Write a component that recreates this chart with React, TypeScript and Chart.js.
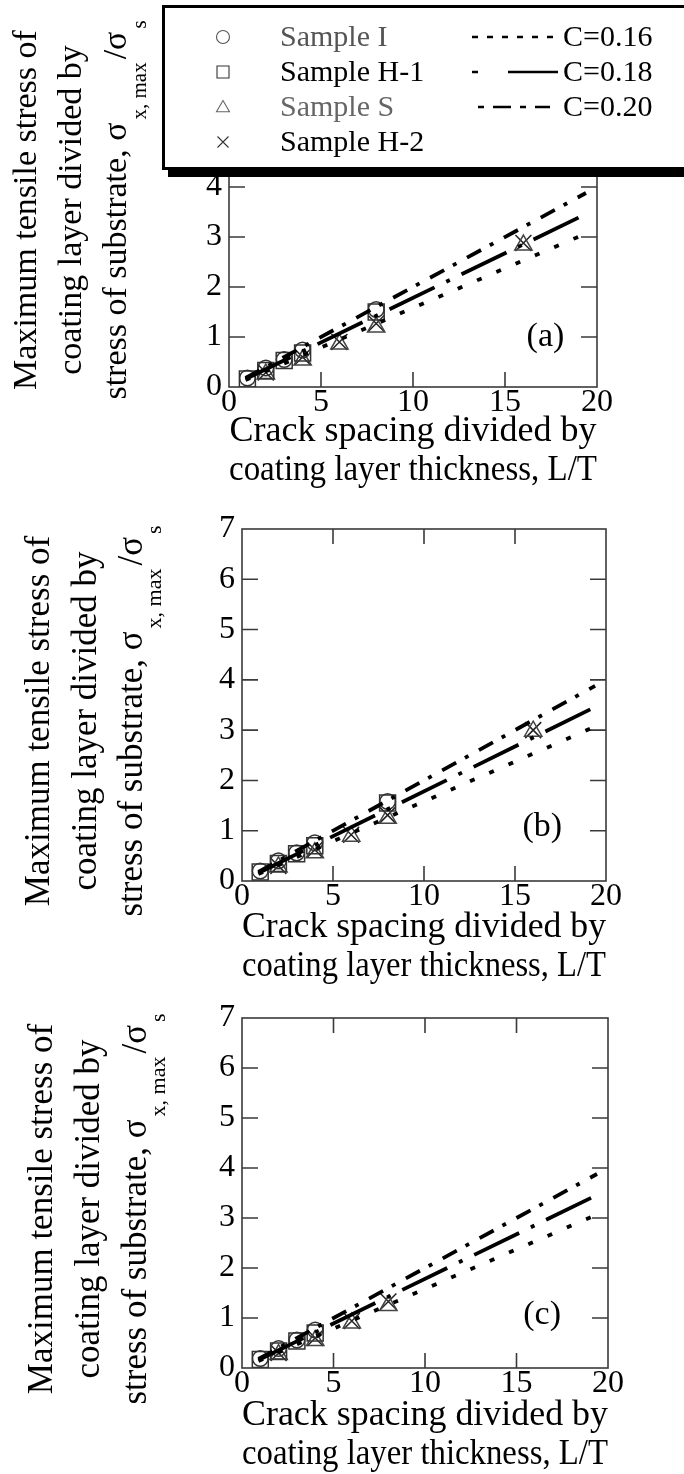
import React, { useEffect, useRef } from 'react';
import { Chart, registerables } from 'chart.js';

Chart.register(...registerables);

const SERIF = "'Liberation Serif', 'Times New Roman', Times, serif";

// ---- data (L/T positions of samples) ----
const xSampleIH = [1, 2, 3, 4, 8];
const xSampleSH = [2, 4, 6, 8, 16];
const xSampleIHc = [1, 2, 3, 4];
const xSampleSHc = [2, 4, 6, 8];

// panel (a)
const aSampleI = [0.18, 0.38, 0.55, 0.74, 1.55];
const aSampleH1 = [0.16, 0.33, 0.53, 0.68, 1.5];
const aSampleS = [0.26, 0.54, 0.86, 1.2, 2.84];
const aSampleH2 = [0.29, 0.6, 0.9, 1.27, 2.88];

// panel (b)
const bSampleI = [0.2, 0.4, 0.56, 0.76, 1.58];
const bSampleH1 = [0.18, 0.35, 0.54, 0.7, 1.55];
const bSampleS = [0.28, 0.56, 0.89, 1.25, 2.98];
const bSampleH2 = [0.3, 0.62, 0.92, 1.31, 3.0];

// panel (c)
const cSampleI = [0.19, 0.39, 0.56, 0.76];
const cSampleH1 = [0.17, 0.34, 0.54, 0.7];
const cSampleS = [0.27, 0.55, 0.9, 1.25];
const cSampleH2 = [0.3, 0.6, 0.94, 1.33];

// model lines (end points)
const lineX = [0.9, 19.4];
const lineC016 = [0.14, 3.07];
const lineC018 = [0.16, 3.46];
const lineC020 = [0.18, 3.88];

// texts
const sampleNames = ['Sample I', 'Sample H-1', 'Sample S', 'Sample H-2'];
const lineNames = ['C=0.16', 'C=0.18', 'C=0.20'];
const xTitleLines = ['Crack spacing divided by', 'coating layer thickness, L/T'];
const yTitleLine1 = 'Maximum tensile stress of';
const yTitleLine2 = 'coating layer divided by';
const yTitleLine3 = ['stress of substrate, \u03c3', 'x, max', '/\u03c3', 's'];
const panelLabels = ['(a)', '(b)', '(c)'];

// ---- layout of each panel (pixels) ----
const layouts = [
  { top: 0, height: 490, left: 229, right: 597, plotTop: 37, plotBottom: 387, labelAt: [17.2, 1.0], titleDy: -2, titleX: [27, 72, 117], subDx: 23, yTitleSize: 34, legend: true },
  { top: 490, height: 496, left: 242, right: 606, plotTop: 39, plotBottom: 391, labelAt: [16.5, 1.07], titleDy: 16, titleX: [40, 87, 133], subDx: 22, yTitleSize: 35, legend: false },
  { top: 986, height: 488, left: 242, right: 608, plotTop: 32, plotBottom: 382, labelAt: [16.4, 1.06], titleDy: 16, titleX: [43, 90, 137], subDx: 22, yTitleSize: 35, legend: false },
];

const panelData = [
  { xIH: xSampleIH, xSH: xSampleSH, I: aSampleI, H1: aSampleH1, S: aSampleS, H2: aSampleH2 },
  { xIH: xSampleIH, xSH: xSampleSH, I: bSampleI, H1: bSampleH1, S: bSampleS, H2: bSampleH2 },
  { xIH: xSampleIHc, xSH: xSampleSHc, I: cSampleI, H1: cSampleH1, S: cSampleS, H2: cSampleH2 },
];

const pts = (xs: number[], ys: number[]) => xs.map((x, i) => ({ x, y: ys[i] }));

function drawMarker(ctx: CanvasRenderingContext2D, kind: string, x: number, y: number, r: number) {
  ctx.beginPath();
  if (kind === 'circle') {
    ctx.arc(x, y, r, 0, Math.PI * 2);
  } else if (kind === 'rect') {
    ctx.rect(x - r, y - r, 2 * r, 2 * r);
  } else if (kind === 'triangle') {
    const h = r * 1.5;
    const w = r * Math.sqrt(3);
    ctx.moveTo(x, y - r);
    ctx.lineTo(x + w / 2, y - r + h);
    ctx.lineTo(x - w / 2, y - r + h);
    ctx.closePath();
  } else {
    ctx.moveTo(x - r, y - r);
    ctx.lineTo(x + r, y + r);
    ctx.moveTo(x + r, y - r);
    ctx.lineTo(x - r, y + r);
  }
  ctx.stroke();
}

function drawLegend(ctx: CanvasRenderingContext2D) {
  ctx.save();
  ctx.setLineDash([]);
  ctx.fillStyle = '#000';
  ctx.fillRect(168, 11, 560, 166);
  ctx.fillStyle = '#fff';
  ctx.fillRect(162, 5, 560, 165);
  ctx.strokeStyle = '#000';
  ctx.lineWidth = 3;
  ctx.strokeRect(163.5, 6.5, 560, 162);

  const rows = [37, 72, 107, 142];
  const kinds = ['circle', 'rect', 'triangle', 'cross'];
  const mcol = ['#555', '#333', '#666', '#333'];
  const tcol = ['#555', '#000', '#666', '#000'];
  const sizes = [6.5, 6, 7.5, 5.5];
  ctx.font = `30px ${SERIF}`;
  ctx.textBaseline = 'middle';
  ctx.textAlign = 'left';
  for (let i = 0; i < 4; i++) {
    ctx.strokeStyle = mcol[i];
    ctx.lineWidth = 1.1;
    drawMarker(ctx, kinds[i], 223, rows[i] + (kinds[i] === 'triangle' ? 1 : 0), sizes[i]);
    ctx.fillStyle = tcol[i];
    ctx.fillText(sampleNames[i], 280, rows[i] + 1);
  }

  ctx.strokeStyle = '#000';
  ctx.lineWidth = 2.6;
  ctx.lineCap = 'butt';
  // C=0.16 dotted
  ctx.setLineDash([6, 9]);
  ctx.beginPath();
  ctx.moveTo(472, rows[0]);
  ctx.lineTo(559, rows[0]);
  ctx.stroke();
  // C=0.18 short + long
  ctx.setLineDash([]);
  ctx.beginPath();
  ctx.moveTo(472, rows[1]);
  ctx.lineTo(478, rows[1]);
  ctx.moveTo(508, rows[1]);
  ctx.lineTo(558, rows[1]);
  ctx.stroke();
  // C=0.20 dash-dot
  ctx.setLineDash([6, 9, 18, 9]);
  ctx.beginPath();
  ctx.moveTo(478, rows[2]);
  ctx.lineTo(550, rows[2]);
  ctx.stroke();
  ctx.setLineDash([]);

  ctx.fillStyle = '#000';
  for (let i = 0; i < 3; i++) ctx.fillText(lineNames[i], 563, rows[i] + 1);
  ctx.restore();
}

function Panel({ idx }: { idx: number }) {
  const ref = useRef<HTMLCanvasElement>(null);
  const L = layouts[idx];
  useEffect(() => {
    const D = panelData[idx];
    const decor = {
      id: 'decor' + idx,
      beforeDatasetsDraw(chart: any) {
        const ctx = chart.ctx as CanvasRenderingContext2D;
        const { left, right, top, bottom } = chart.chartArea;
        const xs = chart.scales.x;
        const ys = chart.scales.y;
        ctx.save();
        ctx.strokeStyle = '#3a3a3a';
        ctx.lineWidth = 1.6;
        ctx.strokeRect(left, top, right - left, bottom - top);
        ctx.beginPath();
        xs.ticks.forEach((t: any) => {
          if (t.value <= xs.min || t.value >= xs.max) return;
          const px = xs.getPixelForValue(t.value);
          ctx.moveTo(px, bottom);
          ctx.lineTo(px, bottom - 15);
          ctx.moveTo(px, top);
          ctx.lineTo(px, top + 15);
        });
        ys.ticks.forEach((t: any) => {
          if (t.value <= ys.min || t.value >= ys.max) return;
          const py = ys.getPixelForValue(t.value);
          ctx.moveTo(left, py);
          ctx.lineTo(left + 16, py);
          ctx.moveTo(right, py);
          ctx.lineTo(right - 16, py);
        });
        ctx.stroke();
        ctx.restore();
      },
      afterDraw(chart: any) {
        const ctx = chart.ctx as CanvasRenderingContext2D;
        const { top, bottom } = chart.chartArea;
        const xs = chart.scales.x;
        const ys = chart.scales.y;
        ctx.save();
        ctx.fillStyle = '#000';
        // panel label
        ctx.font = `34px ${SERIF}`;
        ctx.textAlign = 'center';
        ctx.textBaseline = 'middle';
        ctx.fillText(panelLabels[idx], xs.getPixelForValue(L.labelAt[0]), ys.getPixelForValue(L.labelAt[1]));
        // y title (rotated)
        const cy = (top + bottom) / 2 + L.titleDy;
        const big = `${L.yTitleSize}px ${SERIF}`;
        const small = `${Math.round(L.yTitleSize * 0.62)}px ${SERIF}`;
        const lines = [yTitleLine1, yTitleLine2];
        for (let i = 0; i < 2; i++) {
          ctx.save();
          ctx.translate(L.titleX[i], cy);
          ctx.rotate(-Math.PI / 2);
          ctx.font = big;
          ctx.textAlign = 'center';
          ctx.textBaseline = 'middle';
          ctx.fillText(lines[i], 0, 0);
          ctx.restore();
        }
        ctx.save();
        ctx.translate(L.titleX[2], cy);
        ctx.rotate(-Math.PI / 2);
        ctx.textAlign = 'left';
        ctx.textBaseline = 'middle';
        const fonts = [big, small, big, small];
        const widths = yTitleLine3.map((s, i) => {
          ctx.font = fonts[i];
          return ctx.measureText(s).width;
        });
        const gaps = [3, 3, 3, 0];
        const total = widths.reduce((a, b) => a + b, 0) + gaps.reduce((a, b) => a + b, 0);
        let u = -total / 2;
        yTitleLine3.forEach((s, i) => {
          ctx.font = fonts[i];
          ctx.fillText(s, u, i % 2 === 1 ? L.subDx : 0);
          u += widths[i] + gaps[i];
        });
        ctx.restore();
        ctx.restore();
        if (L.legend) drawLegend(ctx);
      },
    };

    const lineDs = (ys: number[], dash: number[]) => ({
      type: 'line' as const,
      data: pts(lineX, ys),
      borderColor: '#000',
      borderWidth: 3.8,
      borderDash: dash,
      borderCapStyle: 'butt' as const,
      pointRadius: 0,
      showLine: true,
      fill: false,
    });
    const markDs = (xs: number[], ys: number[], style: string, r: number, color: string) => ({
      type: 'scatter' as const,
      data: pts(xs, ys),
      pointStyle: style,
      pointRadius: r,
      pointBorderColor: color,
      pointBackgroundColor: 'rgba(0,0,0,0)',
      pointBorderWidth: 1.5,
      borderColor: color,
      backgroundColor: 'rgba(0,0,0,0)',
      showLine: false,
    });

    const tickFont = { family: SERIF, size: 32, lineHeight: 1 };
    const chart = new Chart(ref.current as HTMLCanvasElement, {
      type: 'scatter',
      data: {
        datasets: [
          lineDs(lineC016, [5, 16]),
          lineDs(lineC018, [50, 13, 4, 13]),
          lineDs(lineC020, [16, 10, 4, 12]),
          markDs(D.xIH, D.I, 'circle', 7.8, '#333'),
          markDs(D.xIH, D.H1, 'rect', 11.3, '#333'),
          markDs(D.xSH, D.S, 'triangle', 10, '#444'),
          markDs(D.xSH, D.H2, 'crossRot', 11.3, '#222'),
        ] as any,
      },
      options: {
        animation: false,
        responsive: false,
        devicePixelRatio: 1,
        events: [],
        layout: { padding: { left: 0, right: 684 - L.right, top: L.plotTop, bottom: 0 } },
        plugins: { legend: { display: false }, tooltip: { enabled: false } },
        scales: {
          x: {
            type: 'linear',
            position: 'bottom',
            min: 0,
            max: 20,
            ticks: { stepSize: 5, padding: 0, color: '#000', font: tickFont, maxRotation: 0, autoSkip: false },
            grid: { display: false, drawTicks: false },
            border: { display: false },
            title: {
              display: true,
              text: xTitleLines,
              color: '#000',
              font: { family: SERIF, size: 36, lineHeight: 39 / 36 },
              padding: { top: 0, bottom: 0 },
            },
            afterFit: (s: any) => {
              s.height = L.height - L.plotBottom;
            },
          },
          y: {
            type: 'linear',
            min: 0,
            max: 7,
            ticks: { stepSize: 1, padding: 7, color: '#000', font: tickFont },
            grid: { display: false, drawTicks: false },
            border: { display: false },
            afterFit: (s: any) => {
              s.width = L.left;
            },
          },
        },
      } as any,
      plugins: [decor],
    });
    return () => chart.destroy();
  }, []);
  return (
    <canvas
      ref={ref}
      width={684}
      height={L.height}
      style={{ position: 'absolute', left: 0, top: L.top, width: 684, height: L.height, display: 'block' }}
    />
  );
}

export default function App() {
  return (
    <div style={{ position: 'absolute', left: 0, top: 0, width: 684, height: 1474, background: '#fff', overflow: 'hidden' }}>
      <Panel idx={0} />
      <Panel idx={1} />
      <Panel idx={2} />
    </div>
  );
}
